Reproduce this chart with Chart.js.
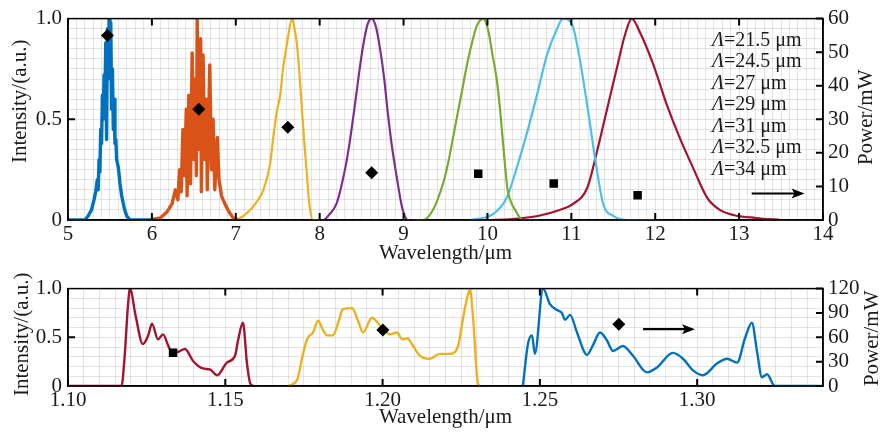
<!DOCTYPE html>
<html>
<head>
<meta charset="utf-8">
<title>Idler and signal spectra</title>
<script src="https://cdn.jsdelivr.net/npm/chart.js@4.4.0/dist/chart.umd.min.js"></script>
<style>
  html, body { margin: 0; padding: 0; background: #fff; }
  #wrap { position: relative; width: 883px; height: 434px; overflow: hidden; }
  #topBox { position: absolute; left: 0; top: 0; width: 883px; height: 270px; }
  #botBox { position: absolute; left: 0; top: 270px; width: 883px; height: 164px; }
</style>
</head>
<body>
<div id="wrap">
  <div id="topBox"><canvas id="idlerChart" width="883" height="270"></canvas></div>
  <div id="botBox"><canvas id="signalChart" width="883" height="164"></canvas></div>
</div>
<script>
// ---- top panel: mid-IR spectra, one pair of arrays per grating period ----
const periods = [21.5, 24.5, 27, 29, 31, 32.5, 34];
const idlerColors = ['#0072BD', '#D95319', '#EDB120', '#7E2F8E', '#77AC30', '#4DBEEE', '#A2142F'];

const wl215 = [5.00, 5.20, 5.24, 5.28, 5.31, 5.33, 5.35, 5.36, 5.37, 5.38, 5.39, 5.40, 5.41, 5.42, 5.43, 5.44, 5.45, 5.46, 5.47, 5.48, 5.49, 5.50, 5.51, 5.52, 5.53, 5.54, 5.55, 5.56, 5.57, 5.58, 5.60, 5.62, 5.64, 5.67, 5.70, 5.74, 6.05];
const int215 = [0, 0, 0.02, 0.05, 0.10, 0.14, 0.20, 0.15, 0.30, 0.24, 0.45, 0.38, 0.62, 0.50, 0.72, 0.60, 0.88, 0.40, 0.95, 0.70, 1.00, 0.85, 0.98, 0.55, 0.75, 0.45, 0.60, 0.38, 0.40, 0.30, 0.26, 0.18, 0.12, 0.06, 0.02, 0, 0];

const wl245 = [5.98, 6.10, 6.18, 6.24, 6.28, 6.31, 6.33, 6.35, 6.37, 6.39, 6.41, 6.42, 6.44, 6.46, 6.48, 6.50, 6.52, 6.53, 6.54, 6.56, 6.58, 6.59, 6.61, 6.63, 6.65, 6.66, 6.69, 6.71, 6.73, 6.75, 6.78, 6.80, 6.83, 6.87, 6.92, 6.97, 7.02];
const int245 = [0, 0.01, 0.04, 0.08, 0.15, 0.10, 0.25, 0.14, 0.45, 0.22, 0.55, 0.12, 0.62, 0.18, 0.83, 0.30, 0.70, 0.22, 1.00, 0.35, 0.90, 0.14, 0.82, 0.30, 0.60, 0.15, 0.77, 0.25, 0.50, 0.15, 0.41, 0.20, 0.12, 0.08, 0.04, 0.01, 0];

const wl27 = [6.95, 7.05, 7.17, 7.25, 7.33, 7.41, 7.45, 7.49, 7.53, 7.56, 7.60, 7.62, 7.67, 7.70, 7.73, 7.76, 7.79, 7.82, 7.85, 7.88, 7.92, 8.00];
const int27 = [0, 0.01, 0.05, 0.09, 0.15, 0.28, 0.42, 0.54, 0.62, 0.74, 0.85, 0.90, 1.00, 0.95, 0.87, 0.72, 0.54, 0.37, 0.21, 0.07, 0, 0];

const wl29 = [7.95, 8.04, 8.12, 8.20, 8.26, 8.32, 8.37, 8.42, 8.47, 8.52, 8.57, 8.62, 8.67, 8.72, 8.77, 8.81, 8.86, 8.92, 8.96, 8.99, 9.05, 9.15];
const int29 = [0, 0, 0.03, 0.08, 0.17, 0.29, 0.42, 0.57, 0.73, 0.87, 0.97, 1.00, 0.96, 0.85, 0.70, 0.54, 0.37, 0.21, 0.11, 0.05, 0, 0];

const wl31 = [9.10, 9.23, 9.35, 9.47, 9.53, 9.59, 9.65, 9.71, 9.76, 9.81, 9.87, 9.95, 10.01, 10.06, 10.11, 10.15, 10.18, 10.21, 10.24, 10.28, 10.33, 10.42, 10.60];
const int31 = [0, 0, 0.05, 0.18, 0.28, 0.41, 0.54, 0.67, 0.78, 0.87, 0.96, 1.00, 0.94, 0.82, 0.70, 0.55, 0.41, 0.27, 0.15, 0.09, 0.05, 0, 0];

const wl325 = [9.80, 10.07, 10.23, 10.35, 10.47, 10.59, 10.71, 10.83, 10.90, 11.01, 11.10, 11.20, 11.30, 11.38, 11.50, 11.66, 12.00];
const int325 = [0, 0.03, 0.11, 0.26, 0.43, 0.62, 0.82, 0.95, 1.00, 0.97, 0.80, 0.54, 0.26, 0.08, 0.02, 0, 0];

const wl34 = [10.00, 10.30, 10.60, 10.86, 11.02, 11.19, 11.30, 11.42, 11.54, 11.64, 11.72, 11.82, 11.97, 12.14, 12.29, 12.45, 12.62, 12.77, 12.93, 13.20, 13.50];
const int34 = [0, 0.005, 0.02, 0.05, 0.08, 0.16, 0.33, 0.54, 0.75, 0.92, 1.00, 0.93, 0.78, 0.57, 0.41, 0.26, 0.11, 0.05, 0.025, 0.01, 0];

const idlerWl = [wl215, wl245, wl27, wl29, wl31, wl325, wl34];
const idlerInt = [int215, int245, int27, int29, int31, int325, int34];

// output power (right axis, mW)
const idlerDiamondWl = [5.47, 6.56, 7.62, 8.62];
const idlerDiamondPow = [55, 33, 27.6, 14.1];
const idlerSquareWl = [9.89, 10.79, 11.79];
const idlerSquarePow = [13.8, 10.9, 7.4];

const idlerXLabels = [5, 6, 7, 8, 9, 10, 11, 12, 13, 14];
const intensityLabels = [0, 0.5, 1];
const idlerPowLabels = [0, 10, 20, 30, 40, 50, 60];

// ---- bottom panel: near-IR signal spectra ----
const signalColors = ['#A2142F', '#EDB120', '#0072BD'];

const sigRedWl = [1.1000, 1.1170, 1.1180, 1.1190, 1.1197, 1.1215, 1.1238, 1.1255, 1.1267, 1.1286, 1.1302, 1.1318, 1.1331, 1.1350, 1.1372, 1.1397, 1.1429, 1.1451, 1.1474, 1.1505, 1.1531, 1.1540, 1.1556, 1.1569, 1.1579, 1.1590];
const sigRedInt = [0, 0, 0.30, 0.80, 1.00, 0.72, 0.43, 0.52, 0.64, 0.48, 0.53, 0.42, 0.34, 0.35, 0.38, 0.26, 0.18, 0.17, 0.11, 0.24, 0.31, 0.46, 0.65, 0.23, 0.03, 0];

const sigYelWl = [1.1700, 1.1728, 1.1745, 1.1760, 1.1779, 1.1795, 1.1810, 1.1823, 1.1842, 1.1860, 1.1874, 1.1903, 1.1922, 1.1938, 1.1966, 1.1992, 1.2024, 1.2046, 1.2062, 1.2078, 1.2097, 1.2119, 1.2151, 1.2182, 1.2214, 1.2240, 1.2256, 1.2270, 1.2278, 1.2287, 1.2303, 1.2310];
const sigYelInt = [0, 0.06, 0.30, 0.48, 0.55, 0.67, 0.58, 0.52, 0.52, 0.66, 0.79, 0.80, 0.67, 0.55, 0.70, 0.62, 0.53, 0.55, 0.48, 0.49, 0.41, 0.31, 0.28, 0.33, 0.33, 0.41, 0.70, 0.92, 0.99, 0.73, 0.03, 0];

const sigBluWl = [1.2446, 1.2462, 1.2475, 1.2484, 1.2510, 1.2532, 1.2554, 1.2570, 1.2580, 1.2596, 1.2618, 1.2650, 1.2669, 1.2691, 1.2713, 1.2732, 1.2764, 1.2796, 1.2840, 1.2872, 1.2923, 1.2955, 1.2987, 1.3018, 1.3063, 1.3095, 1.3127, 1.3152, 1.3174, 1.3190, 1.3206, 1.3222, 1.3247, 1.3400];
const sigBluInt = [0, 0.43, 0.52, 0.33, 1.00, 0.84, 0.78, 0.75, 0.68, 0.73, 0.55, 0.32, 0.42, 0.55, 0.47, 0.36, 0.41, 0.31, 0.14, 0.19, 0.34, 0.28, 0.16, 0.11, 0.23, 0.28, 0.24, 0.49, 0.65, 0.36, 0.09, 0.12, 0, 0];

const signalWl = [sigRedWl, sigYelWl, sigBluWl];
const signalInt = [sigRedInt, sigYelInt, sigBluInt];

const signalSquareWl = [1.1334];
const signalSquarePow = [41];
const signalDiamondWl = [1.2001, 1.2751];
const signalDiamondPow = [69, 76];

const signalXLabels = [1.10, 1.15, 1.20, 1.25, 1.30];
const signalPowLabels = [0, 30, 60, 90, 120];

// ---- helpers ----
Chart.defaults.font.family = '"Liberation Serif", "Times New Roman", serif';
Chart.defaults.font.size = 21;
Chart.defaults.color = '#1a1a1a';

const FONT = '"Liberation Serif", "Times New Roman", serif';
const gridColor = 'rgba(0, 0, 0, 0.10)';

function pairs(xs, ys) {
    return xs.map(function(x, i) { return { x: x, y: ys[i] }; });
}

function lineSet(xs, ys, color, smooth, width) {
    return {
        data: pairs(xs, ys),
        borderColor: color,
        backgroundColor: color,
        borderWidth: width,
        borderJoinStyle: 'round',
        pointRadius: 0,
        fill: false,
        tension: smooth ? 0.4 : 0,
        cubicInterpolationMode: smooth ? 'monotone' : 'default',
        yAxisID: 'y',
        order: 1
    };
}

function markerSet(xs, ys, style, r) {
    return {
        data: pairs(xs, ys),
        showLine: false,
        pointStyle: style,
        pointRadius: r,
        pointBackgroundColor: '#000',
        pointBorderColor: '#000',
        pointBorderWidth: 0,
        yAxisID: 'y2',
        order: 0
    };
}

function labelFrom(list, fmt) {
    return function(v) {
        const hit = list.find(function(l) { return Math.abs(l - v) < 1e-6; });
        return hit === undefined ? '' : fmt(hit);
    };
}

function vText(ctx, text, x, y) {
    ctx.save();
    ctx.translate(x, y);
    ctx.rotate(-Math.PI / 2);
    ctx.fillText(text, 0, 0);
    ctx.restore();
}

// frame, inward ticks, titles, arrow and period labels
const panelDecor = {
    id: 'panelDecor',
    afterDraw(chart, args, o) {
        const ctx = chart.ctx;
        const a = chart.chartArea;
        const xs = chart.scales.x, ys = chart.scales.y, ps = chart.scales.y2;
        ctx.save();

        // inner tick marks
        ctx.strokeStyle = '#000';
        ctx.lineWidth = 2;
        ctx.beginPath();
        o.xMajor.forEach(function(v) {
            const p = xs.getPixelForValue(v);
            ctx.moveTo(p, a.top); ctx.lineTo(p, a.top + 7);
            ctx.moveTo(p, a.bottom); ctx.lineTo(p, a.bottom - 7);
        });
        o.yMajor.forEach(function(v) {
            const p = ys.getPixelForValue(v);
            ctx.moveTo(a.left, p); ctx.lineTo(a.left + 7, p);
        });
        o.pMajor.forEach(function(v) {
            const p = ps.getPixelForValue(v);
            ctx.moveTo(a.right, p); ctx.lineTo(a.right - 7, p);
        });
        ctx.stroke();

        // box
        ctx.lineWidth = 1.5;
        ctx.strokeRect(a.left, a.top, a.right - a.left, a.bottom - a.top);

        // vertical axis titles (both read bottom to top)
        ctx.fillStyle = '#1a1a1a';
        ctx.font = '21px ' + FONT;
        ctx.textAlign = 'center';
        ctx.textBaseline = 'middle';
        const midY = (a.top + a.bottom) / 2;
        vText(ctx, 'Intensity/(a.u.)', a.left - o.leftTitle[0], midY + o.leftTitle[1]);
        vText(ctx, 'Power/mW', a.right + o.rightTitle[0], midY + o.rightTitle[1]);

        // arrow pointing to the power axis
        const x1 = xs.getPixelForValue(o.arrow.from);
        const x2 = xs.getPixelForValue(o.arrow.to);
        const ay = ps.getPixelForValue(o.arrow.pow);
        ctx.fillStyle = '#000';
        ctx.lineWidth = 2.2;
        ctx.beginPath();
        ctx.moveTo(x1, ay); ctx.lineTo(x2 - 8, ay);
        ctx.stroke();
        ctx.beginPath();
        ctx.moveTo(x2, ay);
        ctx.lineTo(x2 - 13, ay - 5);
        ctx.lineTo(x2 - 10, ay);
        ctx.lineTo(x2 - 13, ay + 5);
        ctx.closePath();
        ctx.fill();

        // grating period list
        if (o.periods) {
            ctx.textAlign = 'left';
            ctx.fillStyle = '#1a1a1a';
            o.periods.forEach(function(p, i) {
                const tx = a.right - 111;
                const ty = a.top + 22 + i * 21.5;
                ctx.font = 'italic 20px ' + FONT;
                ctx.fillText('\u039B', tx, ty);
                const w = ctx.measureText('\u039B').width;
                ctx.font = '20px ' + FONT;
                ctx.fillText('=' + p + ' \u03BCm', tx + w, ty);
            });
        }
        ctx.restore();
    }
};

function makeScales(c) {
    return {
        x: {
            type: 'linear',
            min: c.xMin,
            max: c.xMax,
            border: { color: '#000', width: 1.5 },
            grid: { color: gridColor, lineWidth: 1, drawTicks: false },
            ticks: { stepSize: c.xStep, autoSkip: false, maxRotation: 0, padding: 2, callback: c.xFmt },
            title: { display: true, text: 'Wavelength/\u03BCm', padding: { top: 0, bottom: 4 } },
            afterFit: function(s) { s.height = c.xHeight; }
        },
        y: {
            position: 'left',
            min: 0,
            max: 1,
            border: { color: '#000', width: 1.5 },
            grid: { color: gridColor, lineWidth: 1, drawTicks: false },
            ticks: { stepSize: c.yStep, autoSkip: false, padding: 6, callback: labelFrom(intensityLabels, function(v) { return v === 0 ? '0' : v.toFixed(1); }) },
            afterFit: function(s) { s.width = 68; }
        },
        y2: {
            position: 'right',
            min: 0,
            max: c.pMax,
            border: { color: '#000', width: 1.5 },
            grid: { drawOnChartArea: false, drawTicks: false },
            ticks: { stepSize: c.pStep, autoSkip: false, padding: 5 },
            afterFit: function(s) { s.width = 60; }
        }
    };
}

// ---- top chart ----
const idlerSets = idlerWl.map(function(xs, i) {
    const noisy = i < 2;
    return lineSet(xs, idlerInt[i], idlerColors[i], !noisy, noisy ? 3.4 : 2.2);
});
idlerSets.push(markerSet(idlerDiamondWl, idlerDiamondPow, 'rectRot', 6.5));
idlerSets.push(markerSet(idlerSquareWl, idlerSquarePow, 'rect', 6));

new Chart(document.getElementById('idlerChart'), {
    type: 'line',
    data: { datasets: idlerSets },
    plugins: [panelDecor],
    options: {
        responsive: false,
        animation: false,
        devicePixelRatio: 1,
        layout: { padding: { top: 16, left: 0, right: 0, bottom: 0 } },
        plugins: {
            legend: { display: false },
            tooltip: { enabled: false },
            panelDecor: {
                xMajor: idlerXLabels,
                yMajor: [0.5],
                pMajor: idlerPowLabels,
                leftTitle: [48, -18],
                rightTitle: [43, -2],
                arrow: { from: 13.15, to: 13.78, pow: 7.9 },
                periods: periods
            }
        },
        scales: makeScales({
            xMin: 5, xMax: 14, xStep: 0.1, xHeight: 50,
            xFmt: labelFrom(idlerXLabels, function(v) { return String(v); }),
            yStep: 0.05, pMax: 60, pStep: 10
        })
    }
});

// ---- bottom chart ----
const signalSets = signalWl.map(function(xs, i) {
    return lineSet(xs, signalInt[i], signalColors[i], true, 2.4);
});
signalSets.push(markerSet(signalSquareWl, signalSquarePow, 'rect', 6));
signalSets.push(markerSet(signalDiamondWl, signalDiamondPow, 'rectRot', 6.5));

new Chart(document.getElementById('signalChart'), {
    type: 'line',
    data: { datasets: signalSets },
    plugins: [panelDecor],
    options: {
        responsive: false,
        animation: false,
        devicePixelRatio: 1,
        layout: { padding: { top: 17, left: 0, right: 0, bottom: 0 } },
        plugins: {
            legend: { display: false },
            tooltip: { enabled: false },
            panelDecor: {
                xMajor: signalXLabels,
                yMajor: [0.5],
                pMajor: signalPowLabels,
                leftTitle: [46, -3],
                rightTitle: [49, 1],
                arrow: { from: 1.2828, to: 1.2993, pow: 70 },
                periods: null
            }
        },
        scales: makeScales({
            xMin: 1.10, xMax: 1.34, xStep: 0.005, xHeight: 48,
            xFmt: labelFrom(signalXLabels, function(v) { return v.toFixed(2); }),
            yStep: 0.1, pMax: 120, pStep: 30
        })
    }
});
</script>
</body>
</html>
